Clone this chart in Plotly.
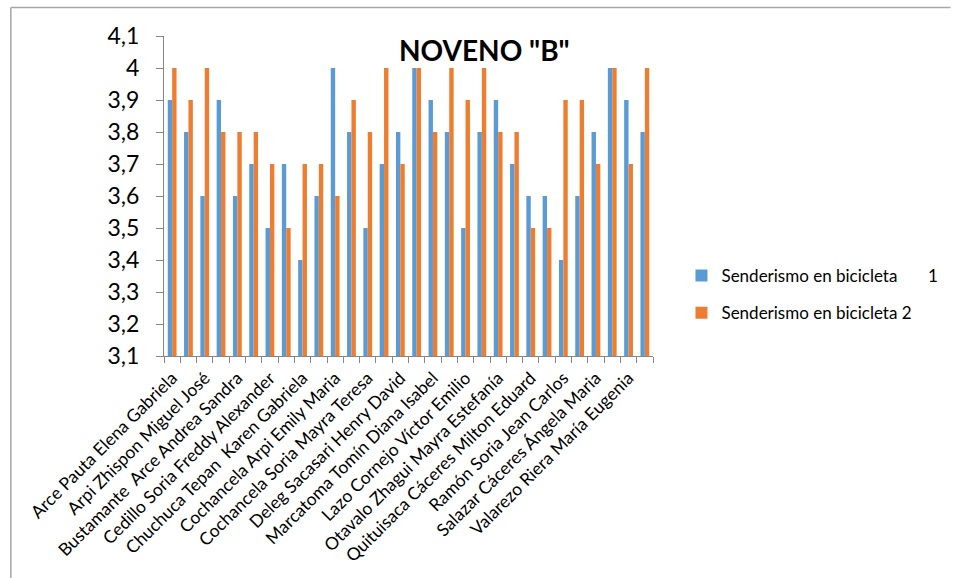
import numpy as np
import plotly.graph_objects as go

# Scores per student (30 students, both activities)
serie_1 = [3.9, 3.8, 3.6, 3.9, 3.6, 3.7, 3.5, 3.7, 3.4, 3.6,
           4.0, 3.8, 3.5, 3.7, 3.8, 4.0, 3.9, 3.8, 3.5, 3.8,
           3.9, 3.7, 3.6, 3.6, 3.4, 3.6, 3.8, 4.0, 3.9, 3.8]
serie_2 = [4.0, 3.9, 4.0, 3.8, 3.8, 3.8, 3.7, 3.5, 3.7, 3.7,
           3.6, 3.9, 3.8, 4.0, 3.7, 4.0, 3.8, 4.0, 3.9, 4.0,
           3.8, 3.8, 3.5, 3.5, 3.9, 3.9, 3.7, 4.0, 3.7, 4.0]

# Category labels shown on the axis (every second student)
etiquetas = [
    "Arce Pauta Elena Gabriela",
    "Arpi Zhispon Miguel José",
    "Bustamante  Arce Andrea Sandra",
    "Cedillo Soria Freddy Alexander",
    "Chuchuca Tepan  Karen Gabriela",
    "Cochancela Arpi Emily Maria",
    "Cochancela Soria Mayra Teresa",
    "Deleg Sacasari Henry David",
    "Marcatoma Tomín Diana Isabel",
    "Lazo Cornejo Víctor Emilio",
    "Otavalo Zhagui Mayra Estefanía",
    "Quituisaca Cáceres Milton Eduard",
    "Ramón Soria Jean Carlos",
    "Salazar Cáceres Ángela Maria",
    "Valarezo Riera María Eugenia",
]

nombres_series = ["Senderismo en bicicleta" + "\u00a0" * 7 + "1",
                  "Senderismo en bicicleta 2"]
colores = ["#5B9BD5", "#ED7D31"]
titulo = 'NOVENO "B"'

n = len(serie_1)
x = np.arange(n)

FONT = "Lato"
W, H = 955, 578
L, R, T, B = 164, 293, 36, 222
pw, ph = W - L - R, H - T - B


def px_x(p):
    return (p - L) / pw


def px_y(p):
    return (H - B - p) / ph


fig = go.Figure()
for i, (vals, name) in enumerate(zip([serie_1, serie_2], nombres_series)):
    fig.add_trace(go.Bar(
        x=x, y=vals, name=name, marker_color=colores[i],
        marker_line_width=0, legendgroup=f"g{i}",
    ))

# Invisible trace to carry the boundary ticks on the overlaid axis
fig.add_trace(go.Scatter(x=[x[0]], y=[serie_1[0]], xaxis="x2", mode="markers",
                         marker_opacity=0, showlegend=False, hoverinfo="skip"))

fig.update_layout(
    width=W, height=H,
    margin=dict(l=L, r=R, t=T, b=B, pad=0),
    paper_bgcolor="white", plot_bgcolor="white",
    separators=", ",
    barmode="group", bargap=0.46, bargroupgap=0,
    font=dict(family=FONT, color="#000000"),
    xaxis=dict(
        range=[-0.5, n - 0.5],
        tickmode="array", tickvals=x[::2], ticktext=etiquetas,
        tickangle=-45, ticks="", showgrid=False, zeroline=False,
        showline=True, linecolor="#868686", linewidth=1,
        tickfont=dict(size=17.5, family=FONT, color="#000000"),
        ticklabelstandoff=4,
    ),
    xaxis2=dict(
        overlaying="x", matches="x", range=[-0.5, n - 0.5],
        tickmode="array", tickvals=np.arange(n + 1) - 0.5,
        ticktext=[""] * (n + 1), ticks="outside", ticklen=6,
        tickcolor="#868686", showgrid=False, zeroline=False,
        showline=False, side="bottom",
    ),
    yaxis=dict(
        range=[3.1, 4.1], dtick=0.1, tick0=3.1,
        ticks="outside", ticklen=7, tickcolor="#868686",
        showline=True, linecolor="#868686", linewidth=1,
        showgrid=False, zeroline=False,
        tickfont=dict(size=23, family=FONT, color="#000000"),
        ticklabelstandoff=12,
    ),
    legend=dict(
        x=px_x(691), y=px_y(258), xanchor="left", yanchor="top",
        font=dict(size=17, family=FONT, color="#000000"),
        tracegroupgap=12, itemwidth=30, bgcolor="rgba(0,0,0,0)",
    ),
    annotations=[dict(
        text=f"<b>{titulo}</b>", x=px_x(490), y=px_y(50),
        xref="paper", yref="paper", showarrow=False,
        xanchor="center", yanchor="middle",
        font=dict(size=28, family=FONT, color="#000000"),
    )],
    shapes=[
        dict(type="line", xref="paper", yref="paper",
             x0=px_x(8), x1=px_x(W + 10), y0=px_y(7.5), y1=px_y(7.5),
             line=dict(color="#A6A6A6", width=1.5)),
        dict(type="line", xref="paper", yref="paper",
             x0=px_x(8), x1=px_x(8), y0=px_y(7.5), y1=px_y(H + 10),
             line=dict(color="#A6A6A6", width=1.5)),
    ],
    showlegend=True,
)

fig.write_html("out.html")
